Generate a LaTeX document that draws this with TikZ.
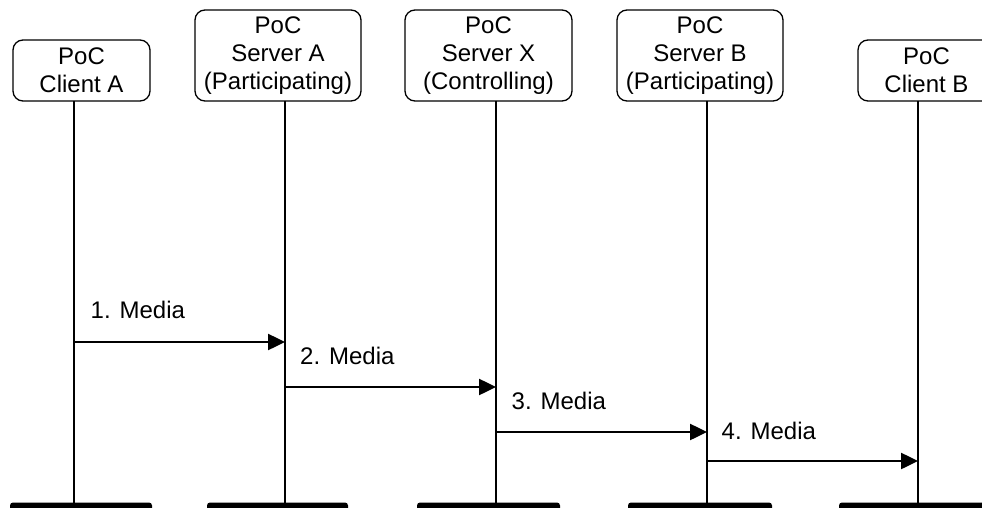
\documentclass[tikz,border=0pt]{standalone}
\usepackage{fontspec}
\setmainfont{Liberation Sans}
\usetikzlibrary{arrows.meta}
\begin{document}
\begin{tikzpicture}[x=1pt,y=-1pt,
  entity/.style={draw, line width=1.3pt, rounded corners=10pt, inner sep=0pt, align=center,
    font=\fontsize{24}{28}\selectfont},
  lifeline/.style={line width=1.5pt},
  msg/.style={line width=2.5pt, -{Triangle[length=17pt,width=16pt]}},
  msglabel/.style={anchor=west, inner sep=0pt, font=\fontsize{24}{28}\selectfont},
  bar/.style={fill=black, rounded corners=3pt}]
\clip (0,0) rectangle (982,508);
\useasboundingbox (0,0) rectangle (982,508);
% entity boxes
\node[entity, minimum width=137pt, minimum height=61pt] (ca) at (81.5,70.5) {PoC\\Client A};
\node[entity, minimum width=166pt, minimum height=91pt] (sa) at (278,55.5) {PoC\\Server A\\(Participating)};
\node[entity, minimum width=167pt, minimum height=91pt] (sx) at (488.5,55.5) {PoC\\Server X\\(Controlling)};
\node[entity, minimum width=166pt, minimum height=91pt] (sb) at (700,55.5) {PoC\\Server B\\(Participating)};
\node[entity, minimum width=137pt, minimum height=61pt] (cb) at (926.5,70.5) {PoC\\Client B};
% lifeline tops and bottoms
\coordinate (t1) at (74,101);  \coordinate (b1) at (74,504);
\coordinate (t2) at (285,101); \coordinate (b2) at (285,504);
\coordinate (t3) at (496,101); \coordinate (b3) at (496,504);
\coordinate (t4) at (707,101); \coordinate (b4) at (707,504);
\coordinate (t5) at (918,101); \coordinate (b5) at (918,504);
\draw[lifeline] (t1) -- (b1);
\draw[lifeline] (t2) -- (b2);
\draw[lifeline] (t3) -- (b3);
\draw[lifeline] (t4) -- (b4);
\draw[lifeline] (t5) -- (b5);
% bottom bars
\fill[bar] (10,502.5) rectangle (152,515);
\fill[bar] (207,502.5) rectangle (348,515);
\fill[bar] (417,502.5) rectangle (560,515);
\fill[bar] (628,502.5) rectangle (772,515);
\fill[bar] (839,502.5) rectangle (990,515);
% message coordinates
\coordinate (m1s) at (74,342);  \coordinate (m1e) at (285,342);
\coordinate (m2s) at (285,387); \coordinate (m2e) at (496,387);
\coordinate (m3s) at (496,432); \coordinate (m3e) at (707,432);
\coordinate (m4s) at (707,461); \coordinate (m4e) at (918,461);
\draw[msg] (m1s) -- (m1e);
\draw[msg] (m2s) -- (m2e);
\draw[msg] (m3s) -- (m3e);
\draw[msg] (m4s) -- (m4e);
\node[msglabel] (l1) at (90.5,310) {1. Media};
\node[msglabel] (l2) at (300,356) {2. Media};
\node[msglabel] (l3) at (511.5,401) {3. Media};
\node[msglabel] (l4) at (721.5,431) {4. Media};
\end{tikzpicture}
\end{document}
